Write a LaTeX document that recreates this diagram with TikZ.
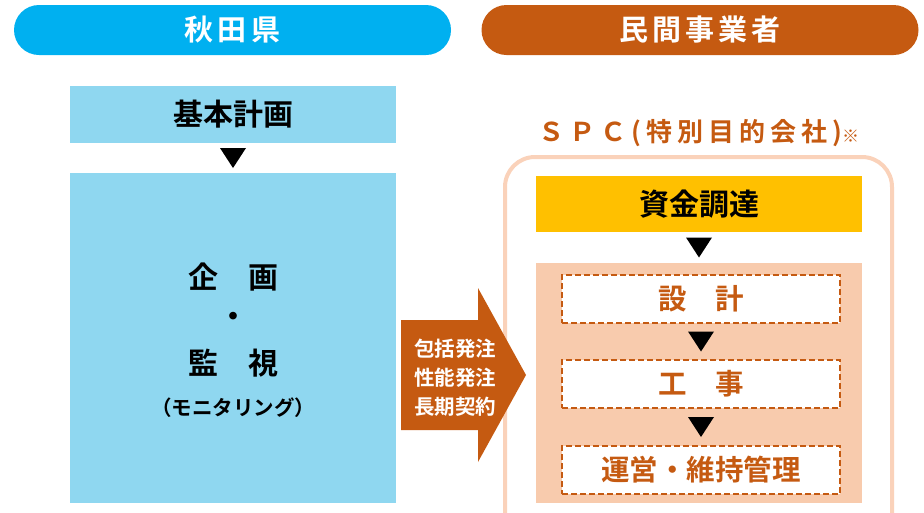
\documentclass[tikz,border=0pt]{standalone}
\usepackage{fontspec}
\setmainfont{Noto Sans CJK JP}[BoldFont={Noto Sans CJK JP Bold}]
\usetikzlibrary{calc}
\definecolor{hblue}{RGB}{0,176,240}
\definecolor{horange}{RGB}{197,90,17}
\definecolor{lblue}{RGB}{143,215,240}
\definecolor{peach}{RGB}{248,203,173}
\definecolor{lpeach}{RGB}{250,210,186}
\definecolor{gold}{RGB}{255,192,0}
\tikzset{
  pill/.style={rounded corners=25pt, minimum width=437pt, minimum height=50pt, text=white, font=\fontsize{29}{32}\selectfont\bfseries\addfontfeature{LetterSpace=14}, inner sep=0pt},
  blk/.style={minimum width=326pt, inner sep=0pt, font=\fontsize{30}{34}\selectfont\bfseries},
  dbox/.style={draw=horange, fill=white, line width=1.8pt, dash pattern=on 6pt off 3pt, minimum width=278pt, minimum height=48pt, inner sep=0pt, text=horange, font=\fontsize{28.5}{32}\selectfont\bfseries},
  txt/.style={inner sep=0pt, font=\fontsize{30}{34}\selectfont\bfseries},
  tri/.style={fill=black}
}
\newcommand{\downtri}[1]{\fill[tri] #1 ++(-13,-10) -- ++(26,0) -- ++(-13,20) -- cycle;}
\begin{document}
\begin{tikzpicture}[x=1pt,y=-1pt]
\useasboundingbox (0,0) rectangle (924,512);
% headers
\node[pill, fill=hblue] (ken) at (232.5,30) {秋田県};
\node[pill, fill=horange] (min) at (700,30) {民間事業者};
% left column
\node[blk, fill=lblue, minimum height=57pt] (plan) at (233,114.5) {基本計画};
\node[blk, fill=lblue, minimum height=330pt] (big) at (233,338) {};
\node[txt] (kikaku) at (233,277) {企　画};
\node[txt] (dot) at (233,320) {・};
\node[txt] (kanshi) at (233,363) {監　視};
\node[inner sep=0pt, font=\fontsize{20.5}{24}\selectfont\bfseries] (moni) at (233,408) {（モニタリング）};
\downtri{($(plan.south)!0.5!(big.north)$)}
% SPC outline
\draw[lpeach, line width=4pt, rounded corners=30pt] (505,157) rectangle (892,560);
\node[inner sep=0pt, text=horange, font=\fontsize{26}{30}\selectfont\bfseries\addfontfeature{LetterSpace=19}] (spc) at (699,133) {ＳＰＣ(特別目的会社)\raisebox{-1pt}{\fontsize{17}{18}\selectfont ※}};
\node[blk, fill=gold, minimum height=56pt] (shikin) at (699,204) {資金調達};
\node[blk, fill=peach, minimum height=240pt] (work) at (699,383) {};
\downtri{($(shikin.south)!0.5!(work.north)$)}
\node[dbox] (sekkei) at (701,299) {設　計};
\node[dbox] (koji) at (701,384) {工　事};
\node[dbox] (unei) at (701,470) {運営・維持管理};
\downtri{($(sekkei.south)!0.5!(koji.north)$)}
\downtri{($(koji.south)!0.5!(unei.north)$)}
% big arrow
\fill[horange] (401,320) -- (478,320) -- (478,288) -- (526,375) -- (478,462) -- (478,430) -- (401,430) -- cycle;
\node[inner sep=0pt, text=white, align=center, font=\fontsize{20.5}{29}\selectfont\bfseries] (contract) at (455,378) {包括発注\\性能発注\\長期契約};
\end{tikzpicture}
\end{document}
